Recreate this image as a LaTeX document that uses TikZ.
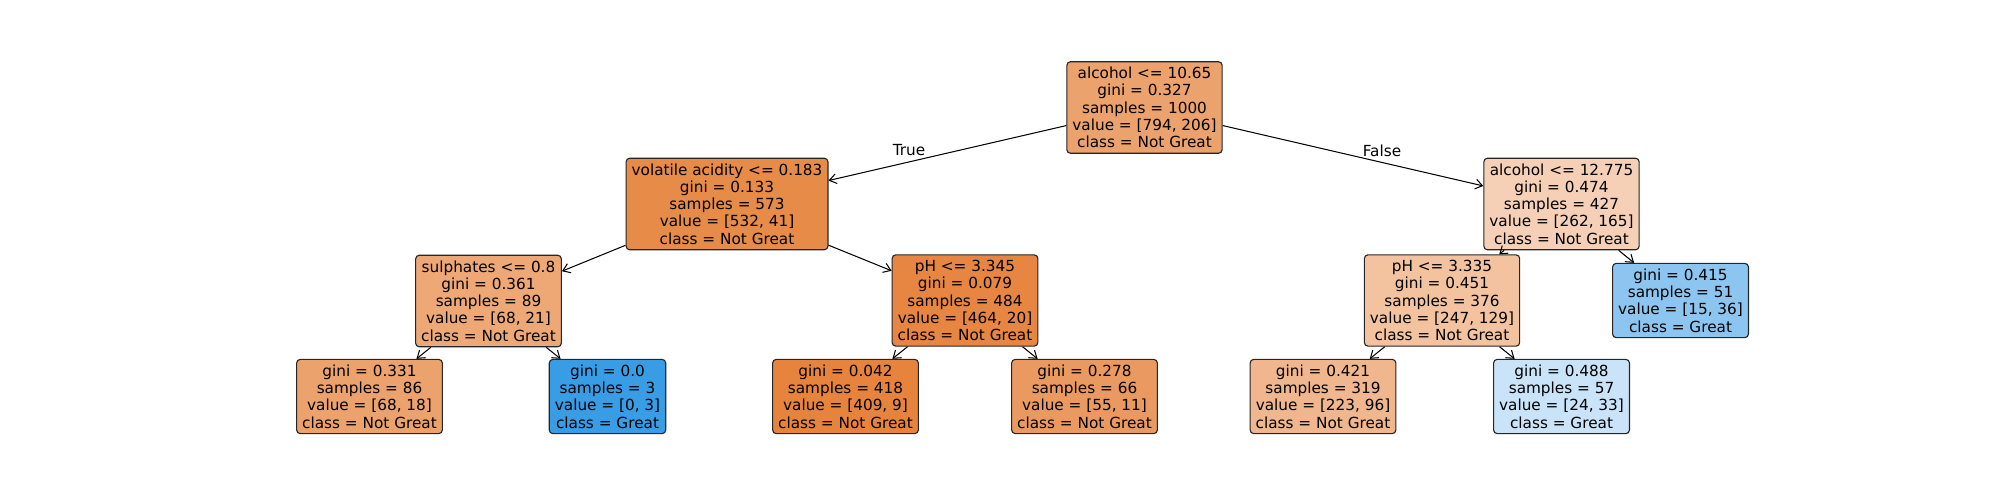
\documentclass[tikz,border=0pt]{standalone}
\usepackage{fontspec}
\setmainfont{DejaVu Sans}
\usetikzlibrary{arrows.meta}
\definecolor{cRoot}{RGB}{236,162,108}
\definecolor{cVa}{RGB}{231,139,72}
\definecolor{cPhA}{RGB}{230,134,66}
\definecolor{cSul}{RGB}{237,168,118}
\definecolor{cLa}{RGB}{236,162,109}
\definecolor{cLb}{RGB}{57,157,229}
\definecolor{cLc}{RGB}{230,132,61}
\definecolor{cLd}{RGB}{234,154,97}
\definecolor{cAlc}{RGB}{245,208,182}
\definecolor{cPhB}{RGB}{243,195,160}
\definecolor{cLe}{RGB}{140,198,240}
\definecolor{cLf}{RGB}{240,183,142}
\definecolor{cLg}{RGB}{201,228,248}
\begin{document}
\begin{tikzpicture}[x=0.72pt, y=-0.72pt,
  treebox/.style={draw=black!85, line width=0.8pt, rounded corners=2.6pt, align=center,
    inner xsep=4pt, inner ysep=3.8pt, font=\fontsize{11}{12.45}\selectfont},
  edge/.style={-{Straight Barb[length=5pt,width=7pt]}, line width=0.75pt},
  lbl/.style={font=\fontsize{11}{12}\selectfont, inner sep=0pt}]
\useasboundingbox (0,0) rectangle (2000,500);
\node[treebox, fill=cRoot] (a) at (1144.5,107.5) {alcohol <= 10.65\\gini = 0.327\\samples = 1000\\value = [794, 206]\\class = Not Great};
\node[treebox, fill=cVa] (b) at (727,204) {volatile acidity <= 0.183\\gini = 0.133\\samples = 573\\value = [532, 41]\\class = Not Great};
\node[treebox, fill=cAlc] (c) at (1561.5,204) {alcohol <= 12.775\\gini = 0.474\\samples = 427\\value = [262, 165]\\class = Not Great};
\node[treebox, fill=cSul] (d) at (488.5,301) {sulphates <= 0.8\\gini = 0.361\\samples = 89\\value = [68, 21]\\class = Not Great};
\node[treebox, fill=cPhA] (e) at (965,300.5) {pH <= 3.345\\gini = 0.079\\samples = 484\\value = [464, 20]\\class = Not Great};
\node[treebox, fill=cPhB] (f) at (1442,300.5) {pH <= 3.335\\gini = 0.451\\samples = 376\\value = [247, 129]\\class = Not Great};
\node[treebox, fill=cLe] (g) at (1680.5,300.5) {gini = 0.415\\samples = 51\\value = [15, 36]\\class = Great};
\node[treebox, fill=cLa] (h) at (369.5,396.5) {gini = 0.331\\samples = 86\\value = [68, 18]\\class = Not Great};
\node[treebox, fill=cLb] (i) at (607.5,396.5) {gini = 0.0\\samples = 3\\value = [0, 3]\\class = Great};
\node[treebox, fill=cLc] (j) at (845.5,396.5) {gini = 0.042\\samples = 418\\value = [409, 9]\\class = Not Great};
\node[treebox, fill=cLd] (k) at (1084.5,396.5) {gini = 0.278\\samples = 66\\value = [55, 11]\\class = Not Great};
\node[treebox, fill=cLf] (l) at (1323,396.5) {gini = 0.421\\samples = 319\\value = [223, 96]\\class = Not Great};
\node[treebox, fill=cLg] (m) at (1561.5,396.5) {gini = 0.488\\samples = 57\\value = [24, 33]\\class = Great};
\draw[edge] (a) -- (b);
\draw[edge] (a) -- (c);
\draw[edge] (b) -- (d);
\draw[edge] (b) -- (e);
\draw[edge] (c) -- (f);
\draw[edge] (c) -- (g);
\draw[edge] (d) -- (h);
\draw[edge] (d) -- (i);
\draw[edge] (e) -- (j);
\draw[edge] (e) -- (k);
\draw[edge] (f) -- (l);
\draw[edge] (f) -- (m);
\node[lbl] (t) at (909,150.5) {True};
\node[lbl] (u) at (1382,150.5) {False};
\end{tikzpicture}
\end{document}
